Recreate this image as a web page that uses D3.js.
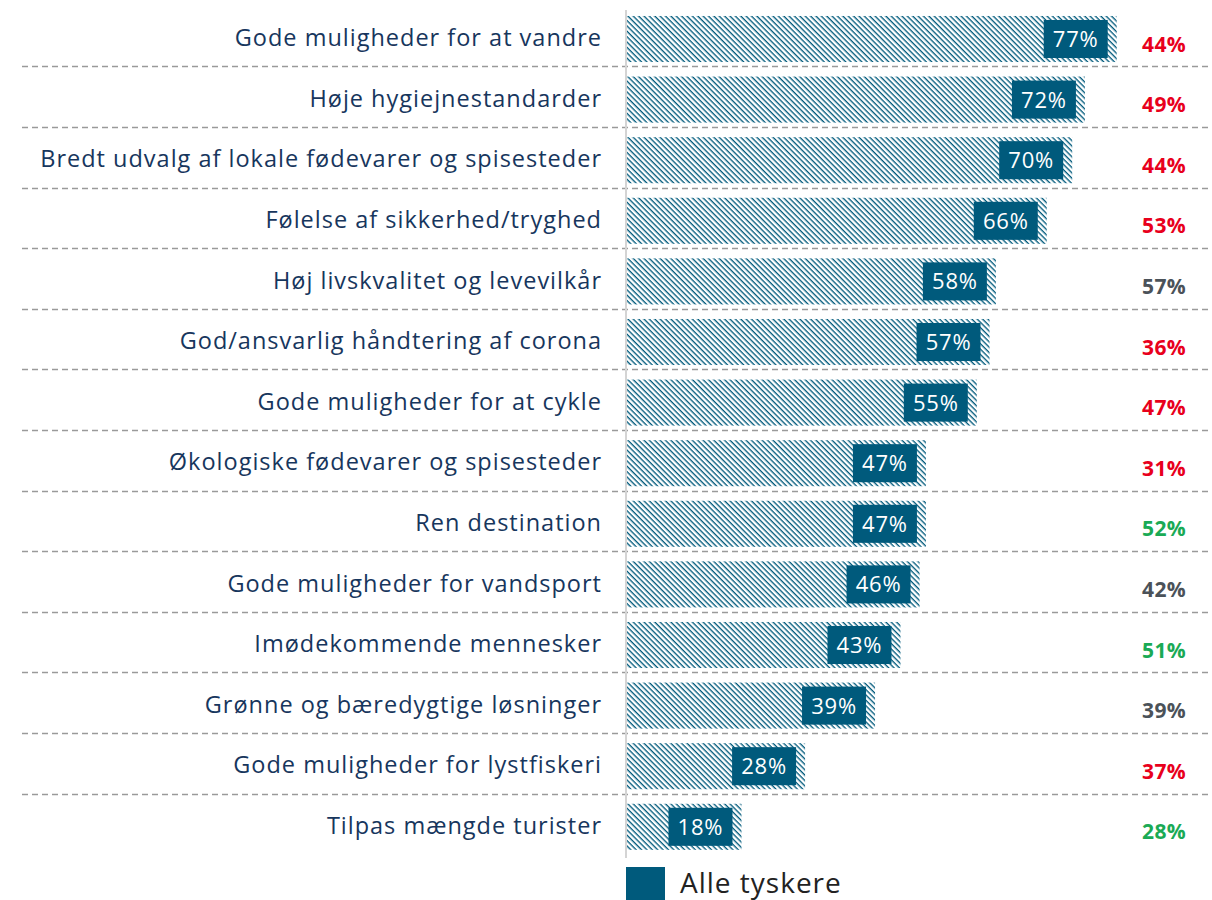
<!DOCTYPE html>
<html>
<head>
<meta charset="utf-8">
<script src="https://cdn.jsdelivr.net/npm/d3@7"></script>
<style>
  body { margin: 0; background: #fff; }
  text { font-family: "Open Sans", sans-serif; }
</style>
</head>
<body>
<div id="chart"></div>
<script>
// data
const categories = [
  "Gode muligheder for at vandre",
  "Høje hygiejnestandarder",
  "Bredt udvalg af lokale fødevarer og spisesteder",
  "Følelse af sikkerhed/tryghed",
  "Høj livskvalitet og levevilkår",
  "God/ansvarlig håndtering af corona",
  "Gode muligheder for at cykle",
  "Økologiske fødevarer og spisesteder",
  "Ren destination",
  "Gode muligheder for vandsport",
  "Imødekommende mennesker",
  "Grønne og bæredygtige løsninger",
  "Gode muligheder for lystfiskeri",
  "Tilpas mængde turister"
];
const alleTyskere = [77, 72, 70, 66, 58, 57, 55, 47, 47, 46, 43, 39, 28, 18];
const compareValues = [44, 49, 44, 53, 57, 36, 47, 31, 52, 42, 51, 39, 37, 28];
const compareTrend = ["neg", "neg", "neg", "neg", "neu", "neg", "neg", "neg", "pos", "neu", "pos", "neu", "neg", "pos"];
const legendLabel = "Alle tyskere";

const width = 1212, height = 900;
const blue = "#005a7c";
const trendColor = { neg: "#e8001c", neu: "#4b5259", pos: "#1aaa55" };

const svg = d3.select("#chart").append("svg")
    .attr("width", width)
    .attr("height", height);

// hatch pattern for the bars
const defs = svg.append("defs");
const pat = defs.append("pattern")
    .attr("id", "hatch")
    .attr("patternUnits", "userSpaceOnUse")
    .attr("width", 3.8)
    .attr("height", 3.8)
    .attr("patternTransform", "rotate(45)");
pat.append("rect").attr("width", 3.8).attr("height", 3.8).attr("fill", "#fff");
pat.append("rect").attr("width", 3.8).attr("height", 1.35).attr("fill", blue);

const x = d3.scaleLinear()
    .domain([0, 100])
    .range([627, 1263]);

const y = d3.scaleBand()
    .domain(categories)
    .range([8.7, 857.1])
    .paddingInner(0.24)
    .paddingOuter(0.12);

const step = y.step();

// dashed separators
svg.append("g")
  .selectAll("line")
  .data(categories.slice(1))
  .join("line")
    .attr("x1", 22)
    .attr("x2", width)
    .attr("y1", d => Math.round(y(d) - step * y.paddingInner() / 2 - 3) + 0.5)
    .attr("y2", d => Math.round(y(d) - step * y.paddingInner() / 2 - 3) + 0.5)
    .attr("stroke", "#9a9a9a")
    .attr("stroke-width", 1.5)
    .attr("stroke-dasharray", "6,4");

// axis line
svg.append("line")
    .attr("x1", x(0) - 1)
    .attr("x2", x(0) - 1)
    .attr("y1", 10)
    .attr("y2", 858)
    .attr("stroke", "#d4d4d4")
    .attr("stroke-width", 2);

// category labels
svg.append("g")
  .selectAll("text")
  .data(categories)
  .join("text")
    .attr("x", 602)
    .attr("y", d => y(d) + y.bandwidth() / 2 - 1)
    .attr("dy", "0.35em")
    .attr("text-anchor", "end")
    .attr("font-size", 23.5)
    .attr("letter-spacing", 1)
    .attr("fill", "#17365d")
    .text(d => d);

// bars
const rows = svg.append("g")
  .selectAll("g")
  .data(categories)
  .join("g")
    .attr("transform", d => `translate(0,${y(d)})`);

rows.append("rect")
    .attr("x", x(0))
    .attr("y", 0)
    .attr("width", (d, i) => x(alleTyskere[i]) - x(0))
    .attr("height", y.bandwidth())
    .attr("fill", "url(#hatch)");

// value boxes
rows.append("rect")
    .attr("x", (d, i) => x(alleTyskere[i]) - 9 - 64)
    .attr("y", 4)
    .attr("width", 64)
    .attr("height", y.bandwidth() - 8)
    .attr("fill", blue);

rows.append("text")
    .attr("x", (d, i) => x(alleTyskere[i]) - 9 - 32)
    .attr("y", y.bandwidth() / 2)
    .attr("dy", "0.36em")
    .attr("text-anchor", "middle")
    .attr("font-size", 22)
    .attr("letter-spacing", 0.8)
    .attr("fill", "#fff")
    .text((d, i) => alleTyskere[i] + "%");

// comparison values on the right
rows.append("text")
    .attr("x", 1164)
    .attr("y", y.bandwidth() / 2 + 5)
    .attr("dy", "0.36em")
    .attr("text-anchor", "middle")
    .attr("font-size", 21)
    .attr("font-weight", "bold")
    .attr("letter-spacing", 0.3)
    .attr("fill", (d, i) => trendColor[compareTrend[i]])
    .text((d, i) => compareValues[i] + "%");

// legend
const legend = svg.append("g").attr("transform", "translate(626,867)");
legend.append("rect")
    .attr("width", 39)
    .attr("height", 40)
    .attr("fill", blue);
legend.append("text")
    .attr("x", 54)
    .attr("y", 26)
    .attr("font-size", 28)
    .attr("letter-spacing", 1)
    .attr("fill", "#222")
    .text(legendLabel);
</script>
</body>
</html>
